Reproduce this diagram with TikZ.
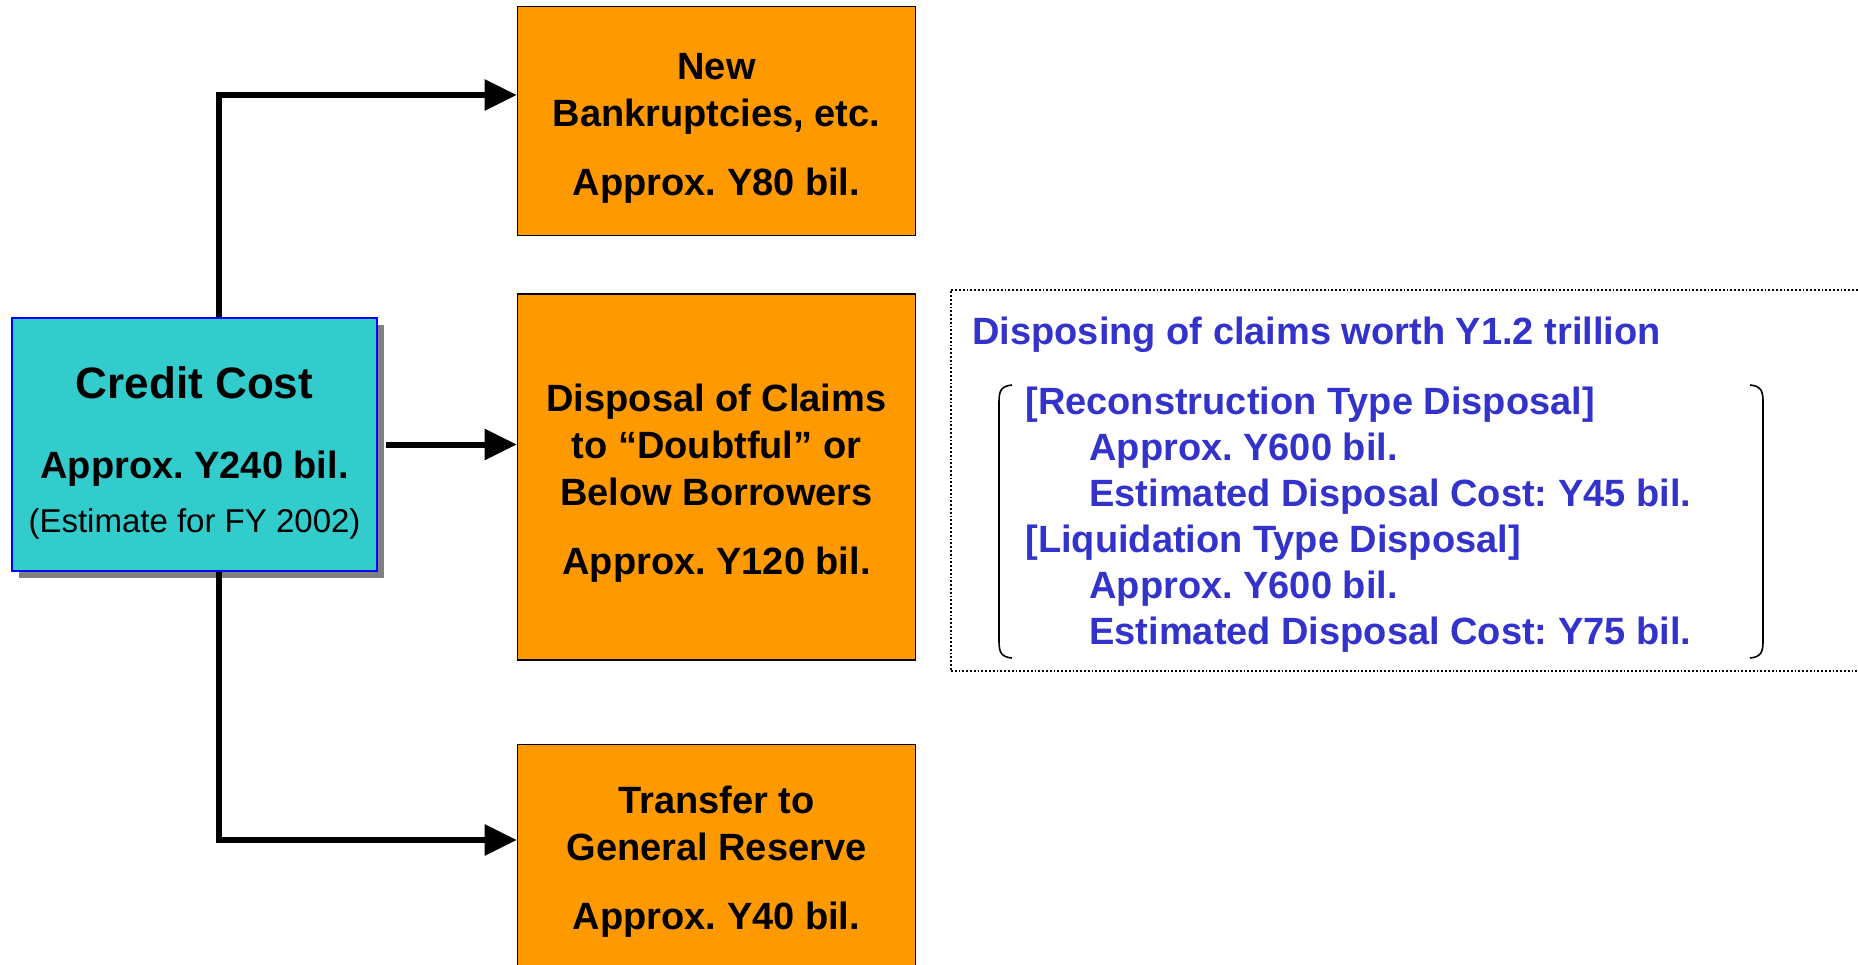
\documentclass[tikz,border=0pt]{standalone}
\usepackage{fontspec}
\setmainfont{Liberation Sans}
\usetikzlibrary{arrows.meta,positioning,shadows}
\definecolor{costfill}{HTML}{33CCCC}
\definecolor{costline}{HTML}{0000FF}
\definecolor{boxorange}{HTML}{FF9900}
\definecolor{noteblue}{HTML}{3333CC}
\frenchspacing
\tikzset{>={Triangle[length=16pt,width=15pt]}}
\tikzstyle{costbox}=[
	draw=costline, fill=costfill, line width=1pt,
	minimum width=182.5pt, minimum height=126.5pt,
	align=center, font=\bfseries\fontsize{19}{23}\selectfont,
	drop shadow={shadow xshift=3.5pt, shadow yshift=-3.5pt, fill=black!50, opacity=1}
    ]
\tikzstyle{orangebox}=[
	draw, fill=boxorange, line width=0.8pt,
	minimum width=199pt, align=center,
	font=\bfseries\fontsize{19}{23.5}\selectfont
    ]
\tikzstyle{note}=[text=noteblue, inner sep=0pt, font=\bfseries\fontsize{19}{23}\selectfont]
\tikzstyle{link}=[->, line width=3pt]
\newcommand{\pBend}[3]{\draw[link] (#1 -| #2) -- (#2) -- (#2 -| #3.west)}
\newcommand{\pPad}[1]{\rule{0pt}{#1}}

\begin{document}
\begin{tikzpicture}[x=0.5pt,y=-0.5pt]
\useasboundingbox (0,0) rectangle (1858,964);
\clip (0,0) rectangle (1858,964);

\node[costbox] (credit) at (194.5,444.5) {\pPad{24pt}{\fontsize{22}{26}\selectfont Credit Cost}\\[17pt]
  Approx. Y240 bil.\\[4pt]
  {\mdseries\fontsize{16.5}{20}\selectfont (Estimate for FY 2002)}};

\node[orangebox,minimum height=183pt] (claims) at (716.5,477) {\pPad{20pt}Disposal of Claims\\to ``Doubtful'' or\\Below Borrowers\\[11pt]Approx. Y120 bil.};
\node[orangebox,minimum height=114.5pt,above=28.5pt of claims] (newbk) {\pPad{20.5pt}New\\Bankruptcies, etc.\\[11pt]Approx. Y80 bil.};
\node[orangebox,minimum height=114pt,below=41.5pt of claims] (reserve) {\pPad{16.5pt}Transfer to\\General Reserve\\[11pt]Approx. Y40 bil.};

\coordinate (topbend) at (219,95);
\coordinate (lowbend) at (219,840);

\pBend{credit.north}{topbend}{newbk};
\draw[link] ([xshift=4pt]credit.east) -- (credit.east -| claims.west);
\pBend{credit.south}{lowbend}{reserve};

% note on the disposal
\node[draw,densely dotted,line width=0.9pt,minimum width=500pt,minimum height=190.5pt,anchor=north west] (panel) at (950,289) {};
\node[note,anchor=base west] (head) at (972,344) {Disposing of claims worth Y1.2 trillion};
\node[note,align=left,anchor=north west] (detail) at (1025,387) {{[}Reconstruction Type Disposal{]}\\
  \hspace*{32pt}Approx. Y600 bil.\\
  \hspace*{32pt}Estimated Disposal Cost: Y45 bil.\\
  {[}Liquidation Type Disposal{]}\\
  \hspace*{32pt}Approx. Y600 bil.\\
  \hspace*{32pt}Estimated Disposal Cost: Y75 bil.};

\draw[line width=0.8pt] (1012,385) .. controls (1001,386) and (999,391) .. (999,402) -- (999,641) .. controls (999,652) and (1001,657) .. (1012,658);
\draw[line width=0.8pt] (1750,385) .. controls (1761,386) and (1763,391) .. (1763,402) -- (1763,641) .. controls (1763,652) and (1761,657) .. (1750,658);

\end{tikzpicture}
\end{document}
